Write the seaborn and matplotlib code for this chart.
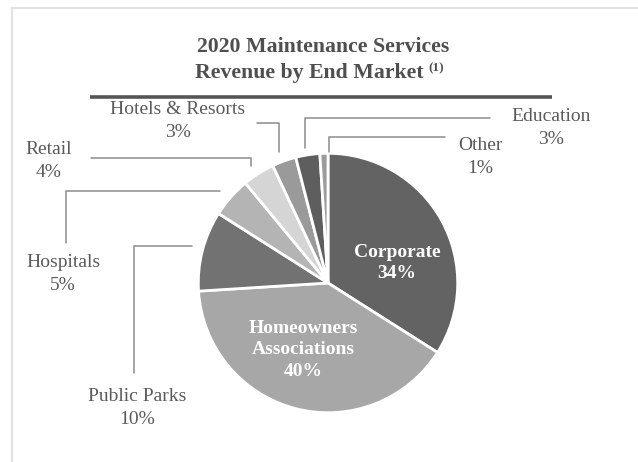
import matplotlib
matplotlib.use("Agg")
from matplotlib import pyplot as plt
from matplotlib.lines import Line2D
import seaborn as sns

markets = ["Corporate", "Homeowners\nAssociations", "Public Parks", "Hospitals",
           "Retail", "Hotels & Resorts", "Education", "Other"]
shares = [34, 40, 10, 5, 4, 3, 3, 1]
greys = ["#636363", "#a7a7a7", "#727272", "#b4b4b4",
         "#d5d5d5", "#9a9a9a", "#5e5e5e", "#9c9c9c"]

sns.set_theme(style="white")
plt.rcParams['font.family'] = ['Liberation Serif', 'DejaVu Serif']

W, H = 638, 462
fig = plt.figure(figsize=(W / 100, H / 100), dpi=100)

# pie drawn in its own axes so the wedge geometry stays standard
pax = fig.add_axes([(328 - 131) / W, 1 - (283 + 131) / H, 262 / W, 262 / H])
wedges, _ = pax.pie(shares, colors=greys, startangle=90, counterclock=False,
                    wedgeprops=dict(edgecolor='white', linewidth=2))
pax.set_xlim(-1.01, 1.01)
pax.set_ylim(-1.01, 1.01)
pax.set_aspect('equal')
pax.axis('off')

# overlay in pixel coordinates for title, frame and labels
ax = fig.add_axes([0, 0, 1, 1])
ax.set_zorder(3)
ax.patch.set_alpha(0)
ax.set_xlim(0, W)
ax.set_ylim(H, 0)
ax.axis('off')

# frame of the slide
ax.add_line(Line2D([11.5, 11.5], [8, H], color='#e2e2e2', lw=1.5))
ax.add_line(Line2D([11.5, W], [8, 8], color='#e2e2e2', lw=1.5))

# title
tcol = '#4f4f4f'
ax.text(323, 47, "2020 Maintenance Services", ha='center', va='center',
        fontsize=15.7, fontweight='bold', color=tcol)
ax.text(424, 73, "Revenue by End Market", ha='right', va='center',
        fontsize=15.7, fontweight='bold', color=tcol)
ax.text(428, 68, "(1)", ha='left', va='center', fontsize=9.5,
        fontweight='bold', color=tcol)
ax.add_line(Line2D([90, 552], [96.5, 96.5], color='#555555', lw=2.6,
                   solid_capstyle='butt'))

# outside labels: (x, y) text centre and leader line path
outside = {
    "Public Parks": ((137, 408), [(192, 246), (134, 246), (134, 373)]),
    "Hospitals": ((63, 274), [(220, 191), (66, 191), (66, 243)]),
    "Retail": ((49, 161), [(91, 158), (251, 158), (251, 166)]),
    "Hotels & Resorts": ((178, 121), [(257, 123), (279, 123), (279, 152)]),
    "Education": ((551, 128), [(490, 118), (305, 118), (305, 148)]),
    "Other": ((480, 157), [(445, 137), (329, 137), (329, 152)]),
}
lcol = '#5a5a5a'
for name, share in zip(markets, shares):
    if name not in outside:
        continue
    (tx, ty), path = outside[name]
    xs, ys = zip(*path)
    ax.add_line(Line2D(xs, ys, color='#8c8c8c', lw=1.1))
    ax.text(tx, ty, f"{name}\n{share}%", ha='center', va='center',
            fontsize=14, color=lcol, linespacing=1.4)

# inside labels
inside = {"Corporate": (397, 263), "Homeowners\nAssociations": (303, 350)}
for name, share in zip(markets, shares):
    if name in inside:
        x, y = inside[name]
        ax.text(x, y, f"{name}\n{share}%", ha='center', va='center',
                fontsize=14, fontweight='bold', color='white', linespacing=1.35)

fig.savefig("out.png", dpi=100)
